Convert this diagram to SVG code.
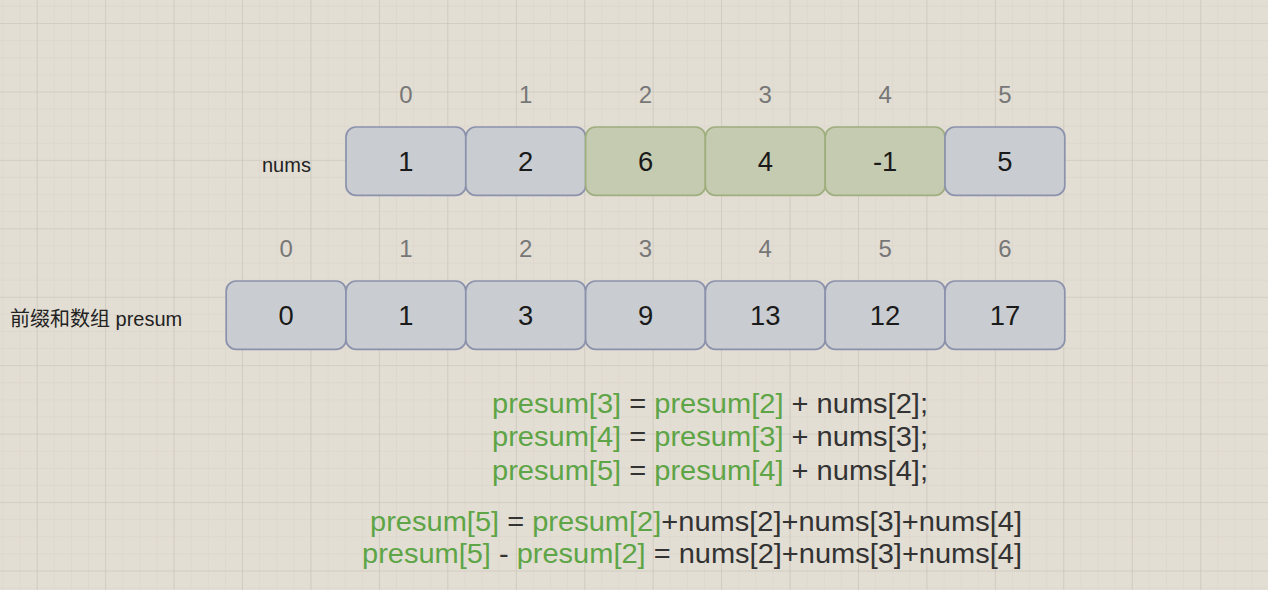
<svg xmlns="http://www.w3.org/2000/svg" width="1268" height="590" viewBox="0 0 1268 590">
<defs>
<pattern id="minor" x="36.7" y="23" width="17.11" height="17.11" patternUnits="userSpaceOnUse">
<path d="M0 0H17.11M0 0V17.11" fill="none" stroke="#d8d2c7" stroke-width="1"/>
</pattern>
<pattern id="major" x="36.7" y="23" width="68.44" height="68.44" patternUnits="userSpaceOnUse">
<path d="M0 0H68.44M0 0V68.44" fill="none" stroke="#c9c3b8" stroke-width="1.2"/>
</pattern>
<style>
.box{fill:#c9cdd1;stroke:#8c92ac;stroke-width:1.7}
.hl{fill:#c5cbb0;stroke:#9fae7e;stroke-width:1.7}
.val{font-family:"Liberation Sans",Arial,sans-serif;font-size:27.4px;fill:#1a1a1a;text-anchor:middle}
.idx{font-family:"Liberation Sans",Arial,sans-serif;font-size:24px;fill:#777777;text-anchor:middle}
.lbl{font-family:"Liberation Sans","Noto Sans CJK SC",Arial,sans-serif;font-size:20px;fill:#222222}
.eq{font-family:"Liberation Sans",Arial,sans-serif;font-size:27.4px;fill:#333333}
.g{fill:#5da546}
</style>
</defs>
<rect width="1268" height="590" fill="#e3ded4"/>
<rect width="1268" height="590" fill="url(#minor)"/>
<rect width="1268" height="590" fill="url(#major)"/>

<g id="connectors"></g>

<g id="nums-label"><text class="lbl" x="262" y="172">nums</text></g>
<g id="presum-label"><text class="lbl" x="10" y="326">前缀和数组 presum</text></g>

<g id="nums-indices">
<text class="idx" x="405.9" y="103">0</text>
<text class="idx" x="525.7" y="103">1</text>
<text class="idx" x="645.5" y="103">2</text>
<text class="idx" x="765.3" y="103">3</text>
<text class="idx" x="885.1" y="103">4</text>
<text class="idx" x="1004.9" y="103">5</text>
</g>

<g id="nums-0"><rect class="box" x="346" y="127" width="119.8" height="68.4" rx="10"/><text class="val" x="405.9" y="171">1</text></g>
<g id="nums-1"><rect class="box" x="465.8" y="127" width="119.8" height="68.4" rx="10"/><text class="val" x="525.7" y="171">2</text></g>
<g id="nums-2"><rect class="hl" x="585.6" y="127" width="119.8" height="68.4" rx="10"/><text class="val" x="645.5" y="171">6</text></g>
<g id="nums-3"><rect class="hl" x="705.4" y="127" width="119.8" height="68.4" rx="10"/><text class="val" x="765.3" y="171">4</text></g>
<g id="nums-4"><rect class="hl" x="825.2" y="127" width="119.8" height="68.4" rx="10"/><text class="val" x="885.1" y="171">-1</text></g>
<g id="nums-5"><rect class="box" x="945" y="127" width="119.8" height="68.4" rx="10"/><text class="val" x="1004.9" y="171">5</text></g>

<g id="presum-indices">
<text class="idx" x="286.1" y="257">0</text>
<text class="idx" x="405.9" y="257">1</text>
<text class="idx" x="525.7" y="257">2</text>
<text class="idx" x="645.5" y="257">3</text>
<text class="idx" x="765.3" y="257">4</text>
<text class="idx" x="885.1" y="257">5</text>
<text class="idx" x="1004.9" y="257">6</text>
</g>

<g id="presum-0"><rect class="box" x="226.2" y="281" width="119.8" height="68.4" rx="10"/><text class="val" x="286.1" y="325">0</text></g>
<g id="presum-1"><rect class="box" x="346" y="281" width="119.8" height="68.4" rx="10"/><text class="val" x="405.9" y="325">1</text></g>
<g id="presum-2"><rect class="box" x="465.8" y="281" width="119.8" height="68.4" rx="10"/><text class="val" x="525.7" y="325">3</text></g>
<g id="presum-3"><rect class="box" x="585.6" y="281" width="119.8" height="68.4" rx="10"/><text class="val" x="645.5" y="325">9</text></g>
<g id="presum-4"><rect class="box" x="705.4" y="281" width="119.8" height="68.4" rx="10"/><text class="val" x="765.3" y="325">13</text></g>
<g id="presum-5"><rect class="box" x="825.2" y="281" width="119.8" height="68.4" rx="10"/><text class="val" x="885.1" y="325">12</text></g>
<g id="presum-6"><rect class="box" x="945" y="281" width="119.8" height="68.4" rx="10"/><text class="val" x="1004.9" y="325">17</text></g>

<g id="equations">
<text class="eq" x="492" y="413" textLength="436" lengthAdjust="spacingAndGlyphs"><tspan class="g">presum[3]</tspan> = <tspan class="g">presum[2]</tspan> + nums[2];</text>
<text class="eq" x="492" y="446" textLength="436" lengthAdjust="spacingAndGlyphs"><tspan class="g">presum[4]</tspan> = <tspan class="g">presum[3]</tspan> + nums[3];</text>
<text class="eq" x="492" y="480" textLength="436" lengthAdjust="spacingAndGlyphs"><tspan class="g">presum[5]</tspan> = <tspan class="g">presum[4]</tspan> + nums[4];</text>
<text class="eq" x="370" y="531" textLength="652" lengthAdjust="spacingAndGlyphs"><tspan class="g">presum[5]</tspan> = <tspan class="g">presum[2]</tspan>+nums[2]+nums[3]+nums[4]</text>
<text class="eq" x="362" y="563" textLength="660" lengthAdjust="spacingAndGlyphs"><tspan class="g">presum[5]</tspan> - <tspan class="g">presum[2]</tspan> = nums[2]+nums[3]+nums[4]</text>
</g>
</svg>
